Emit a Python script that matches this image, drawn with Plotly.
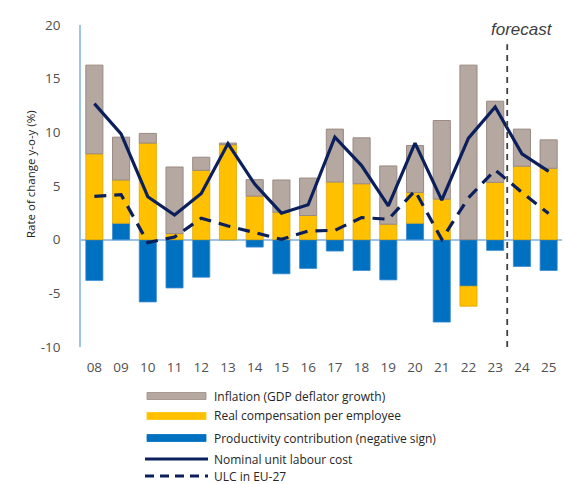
import plotly.graph_objects as go

years = ["08", "09", "10", "11", "12", "13", "14", "15", "16", "17", "18", "19", "20", "21", "22", "23", "24", "25"]
productivity = [-3.8, 1.53, -5.8, -4.5, -3.5, 0.0, -0.69, -3.18, -2.68, -1.06, -2.87, -3.75, 1.53, -7.68, -4.34, -1.0, -2.5, -2.87]
real_comp = [8.0, 4.03, 9.0, 0.56, 6.46, 8.85, 4.06, 2.56, 2.25, 5.37, 5.21, 1.44, 2.87, 3.78, -1.86, 5.34, 6.84, 6.65]
inflation = [8.26, 3.99, 0.9, 6.21, 1.22, 0.15, 1.53, 3.0, 3.49, 4.93, 4.28, 5.43, 4.37, 7.32, 16.26, 7.56, 3.46, 2.65]
nominal_ulc = [12.67, 9.86, 4.0, 2.3, 4.3, 8.95, 5.18, 2.47, 3.25, 9.55, 6.9, 3.15, 9.0, 3.68, 9.46, 12.36, 7.99, 6.37]
ulc_eu27 = [4.03, 4.2, -0.28, 0.25, 2.0, 1.28, 0.66, 0.03, 0.81, 0.87, 2.06, 1.9, 4.56, 0.03, 3.9, 6.5, 4.4, 2.43]
y_ticks = [-10, -5, 0, 5, 10, 15, 20]
y_tick_labels = ["-10", "-5", "0", "5", "10", "15", "20"]
forecast_after = "23"

C_GREY = "#B5A8A0"
C_YELLOW = "#FFC000"
C_BLUE = "#0070C0"
C_NAVY = "#0A1F5C"
AXIS_BLUE = "#9DC3E6"
FONT = "Open Sans"

W, H = 564, 484
L, R, T, B = 81, 2, 25, 137
pw, ph = W - L - R, H - T - B

def px(x):
    return (x - L) / pw

def py(y):
    return (H - B - y) / ph

fig = go.Figure()
fig.add_bar(x=years, y=productivity, marker=dict(color=C_BLUE, line=dict(color="#3A8AD0", width=0.8)),
            name="Productivity contribution (negative sign)", width=0.64)
fig.add_bar(x=years, y=real_comp, marker=dict(color=C_YELLOW, line=dict(color="#E0A800", width=0.8)),
            name="Real compensation per employee", width=0.64)
fig.add_bar(x=years, y=inflation, marker=dict(color=C_GREY, line=dict(color="#9A8A82", width=1)),
            name="Inflation (GDP deflator growth)", width=0.64)
fig.add_scatter(x=years, y=nominal_ulc, mode="lines", line=dict(color=C_NAVY, width=3.2),
                name="Nominal unit labour cost")
fig.add_scatter(x=years, y=ulc_eu27, mode="lines", line=dict(color=C_NAVY, width=3.2, dash="12px,8px"),
                name="ULC in EU-27")

fx = years.index(forecast_after) + 0.45
shapes = [
    dict(type="line", xref="x", yref="y", x0=fx, x1=fx, y0=-10, y1=18.2,
         line=dict(color="#404040", width=1.8, dash="6px,5px")),
]
annotations = [
    dict(xref="x", yref="paper", x=years.index(forecast_after) + 1, y=py(29), text="<i>forecast</i>",
         showarrow=False, font=dict(size=17, color="#404040", family="Liberation Sans"),
         xanchor="center", yanchor="middle"),
    dict(xref="paper", yref="paper", x=px(30), y=py(174), text="Rate of change y-o-y (%)", textangle=-90,
         showarrow=False, font=dict(size=11.5, color="#222222", family=FONT), xanchor="center", yanchor="middle"),
]

legend_items = [
    ("bar", C_GREY, "#9A8A82", "Inflation (GDP deflator growth)", 396),
    ("bar", C_YELLOW, C_YELLOW, "Real compensation per employee", 416),
    ("bar", C_BLUE, C_BLUE, "Productivity contribution (negative sign)", 438),
    ("line", C_NAVY, None, "Nominal unit labour cost", 459),
    ("dash", C_NAVY, None, "ULC in EU-27", 476),
]
for kind, col, edge, label, yc in legend_items:
    if kind == "bar":
        shapes.append(dict(type="rect", xref="paper", yref="paper", x0=px(147), x1=px(206),
                           y0=py(yc - 3.5), y1=py(yc + 3.5), fillcolor=col, line=dict(color=edge, width=0.8)))
    else:
        shapes.append(dict(type="line", xref="paper", yref="paper", x0=px(145), x1=px(208),
                           y0=py(yc), y1=py(yc),
                           line=dict(color=col, width=3, dash="solid" if kind == "line" else "9px,6px")))
    annotations.append(dict(xref="paper", yref="paper", x=px(212), y=py(yc), text=label, showarrow=False,
                            xanchor="left", yanchor="middle", font=dict(size=12, color="#262626", family=FONT)))

fig.update_layout(
    width=W, height=H, margin=dict(l=L, r=R, t=T, b=B),
    barmode="relative", bargap=0.36,
    plot_bgcolor="white", paper_bgcolor="white",
    showlegend=False,
    font=dict(family=FONT, color="#505050", size=13),
    shapes=shapes, annotations=annotations,
)
fig.update_xaxes(type="category", range=[-0.5, len(years) - 0.5], showgrid=False, showline=False,
                 zeroline=False, ticks="", ticklabelstandoff=10, tickfont=dict(size=13.5, color="#505050"))
fig.update_yaxes(range=[-10, 20], tickvals=y_ticks, ticktext=y_tick_labels, showgrid=False, showline=True,
                 linecolor=AXIS_BLUE, linewidth=1.5, zeroline=True, zerolinecolor=AXIS_BLUE, zerolinewidth=1.5,
                 ticks="", ticklabelstandoff=16, tickfont=dict(size=13.5, color="#505050"))

fig.write_html("out.html", config={"displayModeBar": False},
               post_script="document.body.style.margin='0';document.body.style.overflow='hidden';")
